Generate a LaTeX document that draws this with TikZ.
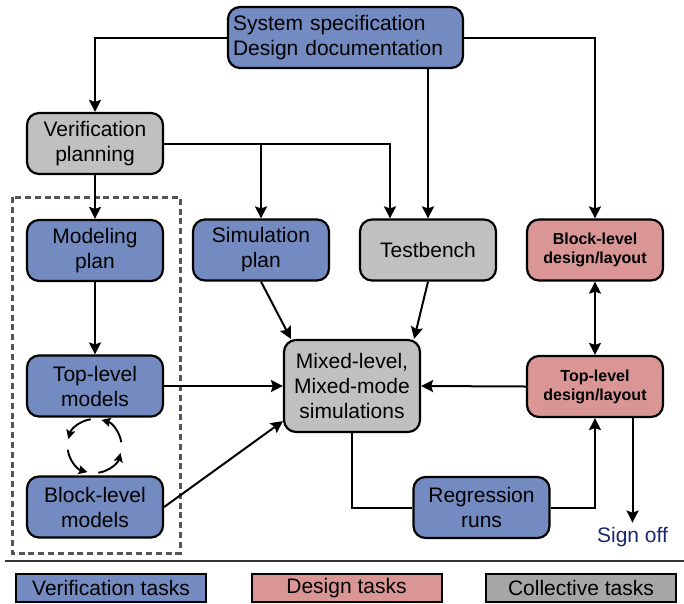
\documentclass[tikz,border=0pt]{standalone}
\usepackage{fontspec}
\setmainfont{Liberation Sans}
\usetikzlibrary{arrows.meta,calc}

\definecolor{vblue}{RGB}{115,139,192}
\definecolor{dpink}{RGB}{217,150,148}
\definecolor{cgray}{RGB}{192,192,192}
\definecolor{lgray}{RGB}{166,166,166}
\definecolor{signblue}{RGB}{25,40,110}
\definecolor{dashgray}{RGB}{85,85,85}

\begin{document}
\begin{tikzpicture}[x=1pt,y=-1pt,
  txt/.style={font=\fontsize{21}{25}\selectfont},
  task/.style={txt, draw=black, line width=2.2pt, rounded corners=12pt,
    minimum width=136pt, minimum height=61pt, inner sep=2pt, align=center},
  vtask/.style={task, fill=vblue},
  dtask/.style={task, fill=dpink, font=\bfseries\fontsize{16}{19}\selectfont},
  ctask/.style={task, fill=cgray},
  link/.style={line width=2pt},
  tip/.style={},
  arr/.style={link, -{Stealth[length=12pt,width=12pt,inset=2pt]}},
  biarr/.style={link, {Stealth[length=12pt,width=12pt,inset=2pt]}-{Stealth[length=12pt,width=12pt,inset=2pt]}},
  cycarr/.style={line width=1.9pt, -{Stealth[length=9pt,width=9pt,inset=1.5pt]}},
  legendbox/.style={txt, draw=black, line width=2pt, minimum width=190pt,
    minimum height=28pt, inner sep=0pt},
]
\useasboundingbox (0,0) rectangle (684,603);

% group of modeling tasks
\draw[dashgray, line width=3pt, dash pattern=on 6pt off 3.8pt] (12,197) rectangle (180,553);

% task boxes
\node[vtask, text width=225pt, inner xsep=5pt, align=left] (spec) at (345.5,37.5)
  {System specification\\Design documentation};
\node[ctask] (vp) at (95,143.5) {Verification\\planning};
\node[vtask] (mp) at (95,250.5) {Modeling\\plan};
\node[vtask] (sp) at (261,250) {Simulation\\plan};
\node[ctask] (tb) at (428,250) {Testbench};
\node[dtask] (bd) at (595,250) {Block-level\\design/layout};
\node[vtask] (tm) at (95,386) {Top-level\\models};
\node[ctask, minimum height=92pt] (mx) at (352,386) {Mixed-level,\\Mixed-mode\\simulations};
\node[dtask] (td) at (595,386.5) {Top-level\\design/layout};
\node[vtask] (bm) at (95,507) {Block-level\\models};
\node[vtask] (rr) at (481.5,507.5) {Regression\\runs};
\node[txt, text=signblue, anchor=base, inner ysep=4pt] (signoff) at (632.5,542) {Sign off};

% connectors
\coordinate (tbin) at ($(tb.north)+(-38,0)$);
\draw[arr] (spec.west) -| (vp.north);
\draw[arr] (spec.east) -| (bd.north);
\draw[arr] (spec.south -| tb.north) -- (tb.north);
\draw[arr] (vp.east) -| (tbin);
\draw[arr] (vp.east -| sp.north) -- (sp.north);
\draw[arr] (vp.south) -- (mp.north);
\draw[arr] (mp.south) -- (tm.north);
\draw[arr] (sp.south) -- ($(mx.north west)+(8,0)$);
\draw[arr] (tb.south) -- ($(mx.north east)+(-7,0)$);
\draw[arr] (tm.east) -- (mx.west);
\draw[arr] (bm.east) -- ($(mx.south west)+(0,-12)$);
\draw[arr] (td.west) -- (mx.east);
\draw[link] (mx.south) |- (rr.west);
\draw[arr] (rr.east) -| (td.south);
\draw[biarr] (bd.south) -- (td.north);
\draw[arr] (td.south -| signoff.north) -- (signoff.north);

% iteration cycle between model levels
\coordinate (cyc) at (94.5,446);
\foreach \a in {0,90,180,270}
  \draw[cycarr] ($(cyc)+(\a+8:27pt)$) arc[start angle=\a+8, end angle=\a+75, radius=27pt];

% separator and legend
\draw[line width=2pt, black!80] (5,561) -- (684,561);
\node[legendbox, fill=vblue] (lv) at (111,588) {Verification tasks};
\node[legendbox, fill=dpink] (ld) at (346.5,588) {Design tasks};
\node[legendbox, fill=lgray] (lc) at (581,588) {Collective tasks};
\end{tikzpicture}
\end{document}
